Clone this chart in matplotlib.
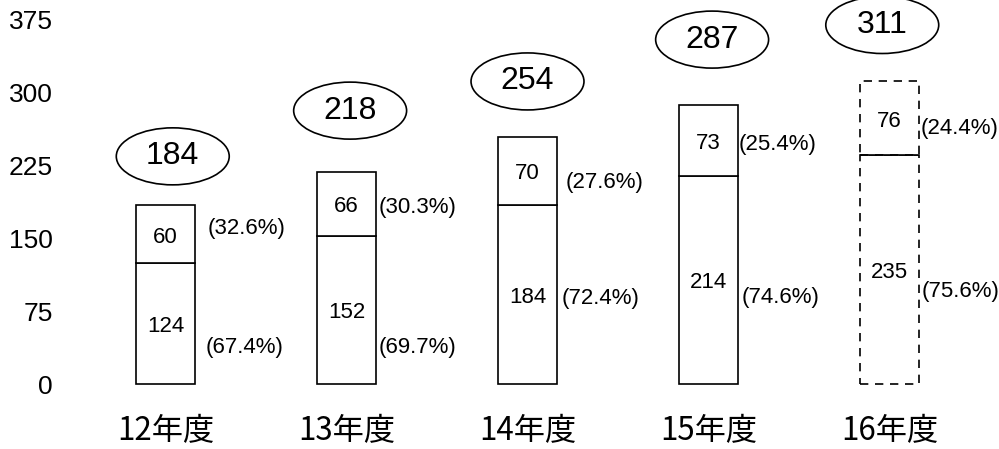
# coding: utf-8

"""
年度別の件数を積み上げ棒グラフにする
"""

import matplotlib
matplotlib.use("Agg")
import matplotlib.pyplot as plt
from matplotlib.patches import Ellipse

# Data
years = ["12年度", "13年度", "14年度", "15年度", "16年度"]
lower = [124, 152, 184, 214, 235]
upper = [60, 66, 70, 73, 76]
totals = [184, 218, 254, 287, 311]
lower_pct = ["(67.4%)", "(69.7%)", "(72.4%)", "(74.6%)", "(75.6%)"]
upper_pct = ["(32.6%)", "(30.3%)", "(27.6%)", "(25.4%)", "(24.4%)"]
yticks = [0, 75, 150, 225, 300, 375]

# Layout (label placement only)
ell_dy = [50, 63, 57, 67, 58]
ell_dx = [0.04, 0.02, 0.0, 0.02, -0.04]
up_pct_y = [160, 181, 207, 246, 263]
low_pct_y = [38, 38, 88, 89, 95]
up_gap = [13, 3, 9, 1, 2]
low_gap = [11, 3, 5, 4, 3]

NUM_FONT = ["Liberation Sans", "DejaVu Sans"]
JP_FONT = ["Noto Sans CJK JP", "DejaVu Sans"]


def main():
	fig = plt.figure(figsize=(9.99, 4.49), dpi=100)
	ax = fig.add_axes([60 / 999, 0, 939 / 999, 1])
	ax.set_xlim(-0.583, 4.605)
	ax.set_ylim(-66.8, 394.7)
	for s in ax.spines.values():
		s.set_visible(False)
	ax.set_xticks([])
	ax.set_yticks(yticks)
	ax.set_yticklabels([str(t) for t in yticks], family=NUM_FONT, fontsize=19)
	ax.tick_params(axis="y", length=0, pad=5)

	xs = list(range(len(years)))
	w = 0.326

	# Bars
	for i, x in enumerate(xs):
		last = i == len(xs) - 1
		ls = (0, (5, 4)) if last else "-"
		ax.bar(x, lower[i], w, color="white", edgecolor="black", linewidth=1.2, linestyle=ls)
		ax.bar(x, upper[i], w, bottom=lower[i], color="white", edgecolor="black", linewidth=1.2, linestyle=ls)
		if last:
			ax.hlines(lower[i], x - w / 2, x + w / 2, color="black", linewidth=1.2)

		# values inside
		ax.text(x, lower[i] / 2 - 3, str(lower[i]), ha="center", va="center", family=NUM_FONT, fontsize=16)
		ax.text(x, lower[i] + upper[i] / 2 - 3, str(upper[i]), ha="center", va="center", family=NUM_FONT, fontsize=16)

		# percentages
		ax.annotate(upper_pct[i], (x + w / 2, up_pct_y[i]), xytext=(up_gap[i], 0), textcoords="offset pixels",
			ha="left", va="center", family=NUM_FONT, fontsize=16)
		ax.annotate(lower_pct[i], (x + w / 2, low_pct_y[i]), xytext=(low_gap[i], 0), textcoords="offset pixels",
			ha="left", va="center", family=NUM_FONT, fontsize=16)

		# total in ellipse
		cy = totals[i] + ell_dy[i]
		cx = x + ell_dx[i]
		ax.add_patch(Ellipse((cx, cy), 0.624, 58.6, facecolor="white", edgecolor="black", linewidth=1.2))
		ax.text(cx, cy, str(totals[i]), ha="center", va="center", family=NUM_FONT, fontsize=23)

		# year
		ax.text(x, -48, years[i], ha="center", va="center", family=JP_FONT, fontsize=22.5)

	fig.savefig("out.png", dpi=100)


if __name__ == "__main__":
	main()
